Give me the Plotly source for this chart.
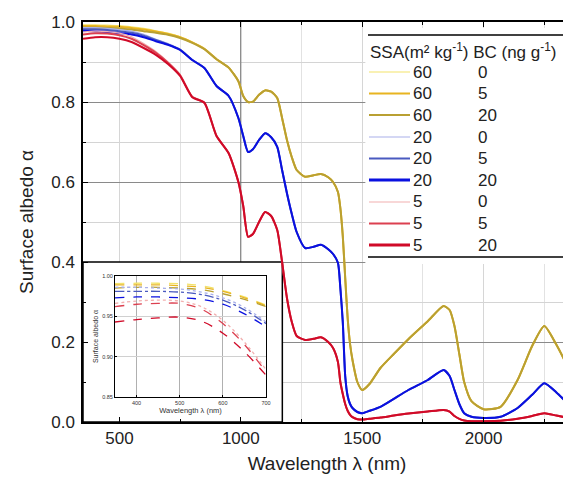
import plotly.graph_objects as go

# ---------------- data ----------------
wavelength = [350, 400, 450, 500, 550, 600, 650, 700, 750, 800, 850, 900,
              950, 990, 1010, 1030, 1050, 1075, 1100, 1125, 1150, 1170, 1190,
              1210, 1230, 1265, 1300, 1330, 1360, 1380, 1400, 1410, 1420, 1430,
              1440, 1450, 1460, 1480, 1500, 1530, 1575, 1630, 1690, 1770, 1835,
              1860, 1880, 1900, 1920, 1950, 2000, 2070, 2140, 2200, 2250, 2300, 2360]

ssa60_bc20 = [0.986, 0.986, 0.985, 0.984, 0.981, 0.977, 0.973, 0.968, 0.960, 0.948, 0.932, 0.907,
              0.886, 0.852, 0.815, 0.800, 0.801, 0.818, 0.829, 0.826, 0.810, 0.760, 0.705,
              0.662, 0.630, 0.613, 0.617, 0.620, 0.612, 0.600, 0.575, 0.535, 0.465, 0.360,
              0.260, 0.195, 0.155, 0.100, 0.080, 0.095, 0.135, 0.170, 0.207, 0.252, 0.290,
              0.280, 0.240, 0.170, 0.100, 0.052, 0.032, 0.038, 0.105, 0.190, 0.240, 0.193, 0.122]

ssa20_bc20 = [0.978, 0.977, 0.975, 0.972, 0.969, 0.962, 0.952, 0.943, 0.930, 0.905, 0.885, 0.840,
              0.815, 0.760, 0.715, 0.675, 0.682, 0.705, 0.722, 0.712, 0.688, 0.630, 0.572,
              0.520, 0.475, 0.435, 0.438, 0.443, 0.432, 0.420, 0.398, 0.335, 0.250, 0.115,
              0.065, 0.045, 0.035, 0.025, 0.022, 0.028, 0.038, 0.058, 0.080, 0.105, 0.130,
              0.115, 0.080, 0.045, 0.022, 0.013, 0.010, 0.013, 0.035, 0.068, 0.097, 0.074, 0.038]

ssa5_bc20 = [0.958, 0.962, 0.962, 0.958, 0.950, 0.935, 0.918, 0.895, 0.865, 0.812, 0.798, 0.715,
             0.672, 0.600, 0.540, 0.463, 0.470, 0.500, 0.525, 0.515, 0.480, 0.400, 0.310,
             0.250, 0.215, 0.205, 0.208, 0.212, 0.200, 0.185, 0.150, 0.100, 0.070, 0.045,
             0.028, 0.018, 0.012, 0.007, 0.006, 0.008, 0.011, 0.016, 0.021, 0.026, 0.030,
             0.026, 0.015, 0.008, 0.004, 0.002, 0.002, 0.003, 0.008, 0.015, 0.022, 0.016, 0.009]

# visible part (350-900 nm) where BC matters; NIR identical to BC20 curves
N_VIS = 12
ssa60_bc0_vis = [0.993, 0.993, 0.992, 0.991, 0.988, 0.984, 0.978, 0.972, 0.963, 0.950, 0.933, 0.907]
ssa60_bc5_vis = [0.990, 0.990, 0.989, 0.988, 0.985, 0.981, 0.976, 0.970, 0.962, 0.949, 0.933, 0.907]
ssa20_bc0_vis = [0.986, 0.986, 0.984, 0.981, 0.977, 0.969, 0.957, 0.946, 0.932, 0.906, 0.885, 0.840]
ssa20_bc5_vis = [0.982, 0.982, 0.980, 0.977, 0.973, 0.966, 0.955, 0.944, 0.931, 0.905, 0.885, 0.840]
ssa5_bc0_vis = [0.975, 0.977, 0.976, 0.972, 0.963, 0.946, 0.926, 0.900, 0.868, 0.813, 0.798, 0.715]
ssa5_bc5_vis = [0.969, 0.972, 0.971, 0.967, 0.958, 0.942, 0.923, 0.898, 0.867, 0.813, 0.798, 0.715]

ssa60_bc0 = ssa60_bc0_vis + ssa60_bc20[N_VIS:]
ssa60_bc5 = ssa60_bc5_vis + ssa60_bc20[N_VIS:]
ssa20_bc0 = ssa20_bc0_vis + ssa20_bc20[N_VIS:]
ssa20_bc5 = ssa20_bc5_vis + ssa20_bc20[N_VIS:]
ssa5_bc0 = ssa5_bc0_vis + ssa5_bc20[N_VIS:]
ssa5_bc5 = ssa5_bc5_vis + ssa5_bc20[N_VIS:]

# inset (zoom on 350-700 nm)
inset_wavelength = [350, 400, 450, 500, 550, 600, 650, 700]
in_ssa60_bc0 = [0.9905, 0.991, 0.991, 0.9905, 0.988, 0.982, 0.974, 0.964]
in_ssa60_bc5 = [0.989, 0.989, 0.989, 0.988, 0.986, 0.981, 0.973, 0.963]
in_ssa60_bc20 = [0.985, 0.986, 0.986, 0.985, 0.983, 0.978, 0.971, 0.962]
in_ssa20_bc0 = [0.986, 0.986, 0.985, 0.984, 0.980, 0.973, 0.961, 0.943]
in_ssa20_bc5 = [0.981, 0.981, 0.981, 0.980, 0.977, 0.970, 0.958, 0.941]
in_ssa20_bc20 = [0.973, 0.974, 0.974, 0.973, 0.971, 0.965, 0.953, 0.937]
in_ssa5_bc0 = [0.966, 0.969, 0.970, 0.969, 0.962, 0.945, 0.918, 0.884]
in_ssa5_bc5 = [0.962, 0.965, 0.966, 0.966, 0.959, 0.941, 0.915, 0.881]
in_ssa5_bc20 = [0.943, 0.946, 0.948, 0.949, 0.944, 0.929, 0.906, 0.877]

ssa_labels = ["60", "60", "60", "20", "20", "20", "5", "5", "5"]
bc_labels = ["0", "5", "20", "0", "5", "20", "0", "5", "20"]
x_ticks = [500, 1000, 1500, 2000]
y_ticks = [0.0, 0.2, 0.4, 0.6, 0.8, 1.0]
inset_x_ticks = [400, 500, 600, 700]
inset_y_ticks = [0.85, 0.90, 0.95, 1.00]

# ---------------- styles ----------------
colors = ["#F3E36A", "#E8B420", "#B9A032", "#A9B0EA", "#4A5AC0", "#0A10E0",
          "#F2B0B0", "#DC4050", "#D00A28"]
widths = [1.2, 2.0, 2.0, 1.2, 2.0, 2.0, 1.2, 2.0, 2.0]
legend_widths = [1.2, 2.2, 2.0, 1.2, 2.2, 2.8, 1.2, 2.0, 2.8]
inset_dash = ["dash", "dash", "dash", "dot", "dashdot", "dash", "dot", "dash", "dash"]

main_series = [ssa60_bc0, ssa60_bc5, ssa60_bc20, ssa20_bc0, ssa20_bc5, ssa20_bc20,
               ssa5_bc0, ssa5_bc5, ssa5_bc20]
inset_series = [in_ssa60_bc0, in_ssa60_bc5, in_ssa60_bc20, in_ssa20_bc0, in_ssa20_bc5,
                in_ssa20_bc20, in_ssa5_bc0, in_ssa5_bc5, in_ssa5_bc20]

FONT = "Liberation Sans, Arial, sans-serif"
# the page body has an 8px margin: figure is sized to fit the 571x481 window
BODY = 8
W, H = 571 - BODY, 481 - BODY
# plot area in window pixels
PL, PR, PT, PB = 83, 571, 22, 422
ML, MR, MT, MB = PL - BODY, 0, PT - BODY, H - (PB - BODY)
PW, PH = PR - PL, PB - PT


def px_x(px):
    return (px - PL) / PW


def px_y(py):
    return (PB - py) / PH


fig = go.Figure()

for i, ys in enumerate(main_series):
    fig.add_trace(go.Scatter(
        x=wavelength, y=ys, mode="lines",
        line=dict(color=colors[i], width=widths[i], shape="spline", smoothing=0.6),
        showlegend=False, xaxis="x", yaxis="y"))

for i, ys in enumerate(inset_series):
    fig.add_trace(go.Scatter(
        x=inset_wavelength, y=ys, mode="lines",
        line=dict(color=colors[i], width=1.3, dash=inset_dash[i], shape="spline"),
        showlegend=False, xaxis="x2", yaxis="y2"))

shapes = []
# dark grid line at 1000 nm
shapes.append(dict(type="line", xref="x", yref="y", x0=1000, x1=1000, y0=0, y1=1,
                   line=dict(color="#707070", width=1), layer="between"))
# white inset box
shapes.append(dict(type="rect", xref="x", yref="y", x0=350, x1=1171, y0=0, y1=0.40,
                   fillcolor="white", line=dict(color="black", width=1.5), layer="between"))
# white legend box
shapes.append(dict(type="rect", xref="x", yref="y", x0=1513, x1=2342, y0=0.395, y1=0.985,
                   fillcolor="white", line=dict(width=0), layer="between"))
# legend rules
for py in (35, 257):
    shapes.append(dict(type="line", xref="paper", yref="paper",
                       x0=px_x(368), x1=px_x(563), y0=px_y(py), y1=px_y(py),
                       line=dict(color="black", width=1.5), layer="above"))

row_y = [72, 93.5, 115, 137, 158.5, 180, 202, 223.5, 245]
annotations = []
for i in range(9):
    shapes.append(dict(type="line", xref="paper", yref="paper",
                       x0=px_x(369), x1=px_x(410), y0=px_y(row_y[i]), y1=px_y(row_y[i]),
                       line=dict(color=colors[i], width=legend_widths[i]), layer="above"))
    annotations.append(dict(xref="paper", yref="paper", x=px_x(411), y=px_y(row_y[i]),
                            text=ssa_labels[i], showarrow=False, xanchor="left",
                            yanchor="middle", font=dict(family=FONT, size=17, color="#222")))
    annotations.append(dict(xref="paper", yref="paper", x=px_x(476), y=px_y(row_y[i]),
                            text=bc_labels[i], showarrow=False, xanchor="left",
                            yanchor="middle", font=dict(family=FONT, size=17, color="#222")))
annotations.append(dict(xref="paper", yref="paper", x=px_x(368), y=px_y(51),
                        text="SSA(m² kg<sup>-1</sup>) BC (ng g<sup>-1</sup>)",
                        showarrow=False, xanchor="left", yanchor="middle",
                        font=dict(family=FONT, size=17, color="#222")))

fig.update_layout(
    width=W, height=H,
    margin=dict(l=ML, r=MR, t=MT, b=MB, pad=0, autoexpand=False),
    paper_bgcolor="white", plot_bgcolor="white",
    font=dict(family=FONT, color="#222"),
    shapes=shapes, annotations=annotations,
    xaxis=dict(
        range=[350, 2360], tickvals=x_ticks, ticks="inside", ticklen=5, tickwidth=1.2,
        tickcolor="black", showline=True, linecolor="black", linewidth=1.5, mirror="ticks",
        showgrid=True, gridcolor="#d6d6d6", gridwidth=1, zeroline=False,
        tickfont=dict(size=17, family=FONT, color="#222"), ticklabelstandoff=0,
        minor=dict(dtick=250, tick0=0, ticks="inside", ticklen=3, tickcolor="black",
                   showgrid=True, gridcolor="#e2e2e2"),
        title=dict(text="Wavelength λ (nm)", font=dict(size=19, family=FONT, color="#222"),
                   standoff=10),
    ),
    yaxis=dict(
        range=[0, 1.0], tickvals=y_ticks, tickformat=".1f", ticks="inside", ticklen=5,
        tickwidth=1.2, tickcolor="black", showline=True, linecolor="black", linewidth=1.5,
        showgrid=True, gridcolor="#8a8a8a", gridwidth=1, zeroline=False,
        tickfont=dict(size=17, family=FONT, color="#222"), ticklabelstandoff=3,
        minor=dict(dtick=0.1, tick0=0, ticks="inside", ticklen=3, tickcolor="black",
                   showgrid=True, gridcolor="#d4d4d4"),
        title=dict(text="Surface albedo α", font=dict(size=19, family=FONT, color="#222"),
                   standoff=13),
    ),
    xaxis2=dict(
        domain=[px_x(115), px_x(266)], anchor="y2", range=[350, 700],
        tickvals=inset_x_ticks, ticks="inside", ticklen=2, tickcolor="black",
        showline=True, linecolor="black", linewidth=1, mirror=True,
        showgrid=True, gridcolor="#b0b0b0", zeroline=False,
        tickfont=dict(size=5.5, family=FONT, color="#333"),
        title=dict(text="Wavelength λ (nm)", font=dict(size=7.5, family=FONT, color="#333"),
                   standoff=1),
    ),
    yaxis2=dict(
        domain=[px_y(397), px_y(276)], anchor="x2", range=[0.85, 1.0],
        tickvals=inset_y_ticks, tickformat=".2f", ticks="inside", ticklen=2,
        tickcolor="black", showline=True, linecolor="black", linewidth=1, mirror=True,
        showgrid=True, gridcolor="#d0d0d0", zeroline=False,
        tickfont=dict(size=5.5, family=FONT, color="#333"),
        title=dict(text="Surface albedo α", font=dict(size=7, family=FONT, color="#333"),
                   standoff=2),
    ),
)

fig.write_html("out.html")
